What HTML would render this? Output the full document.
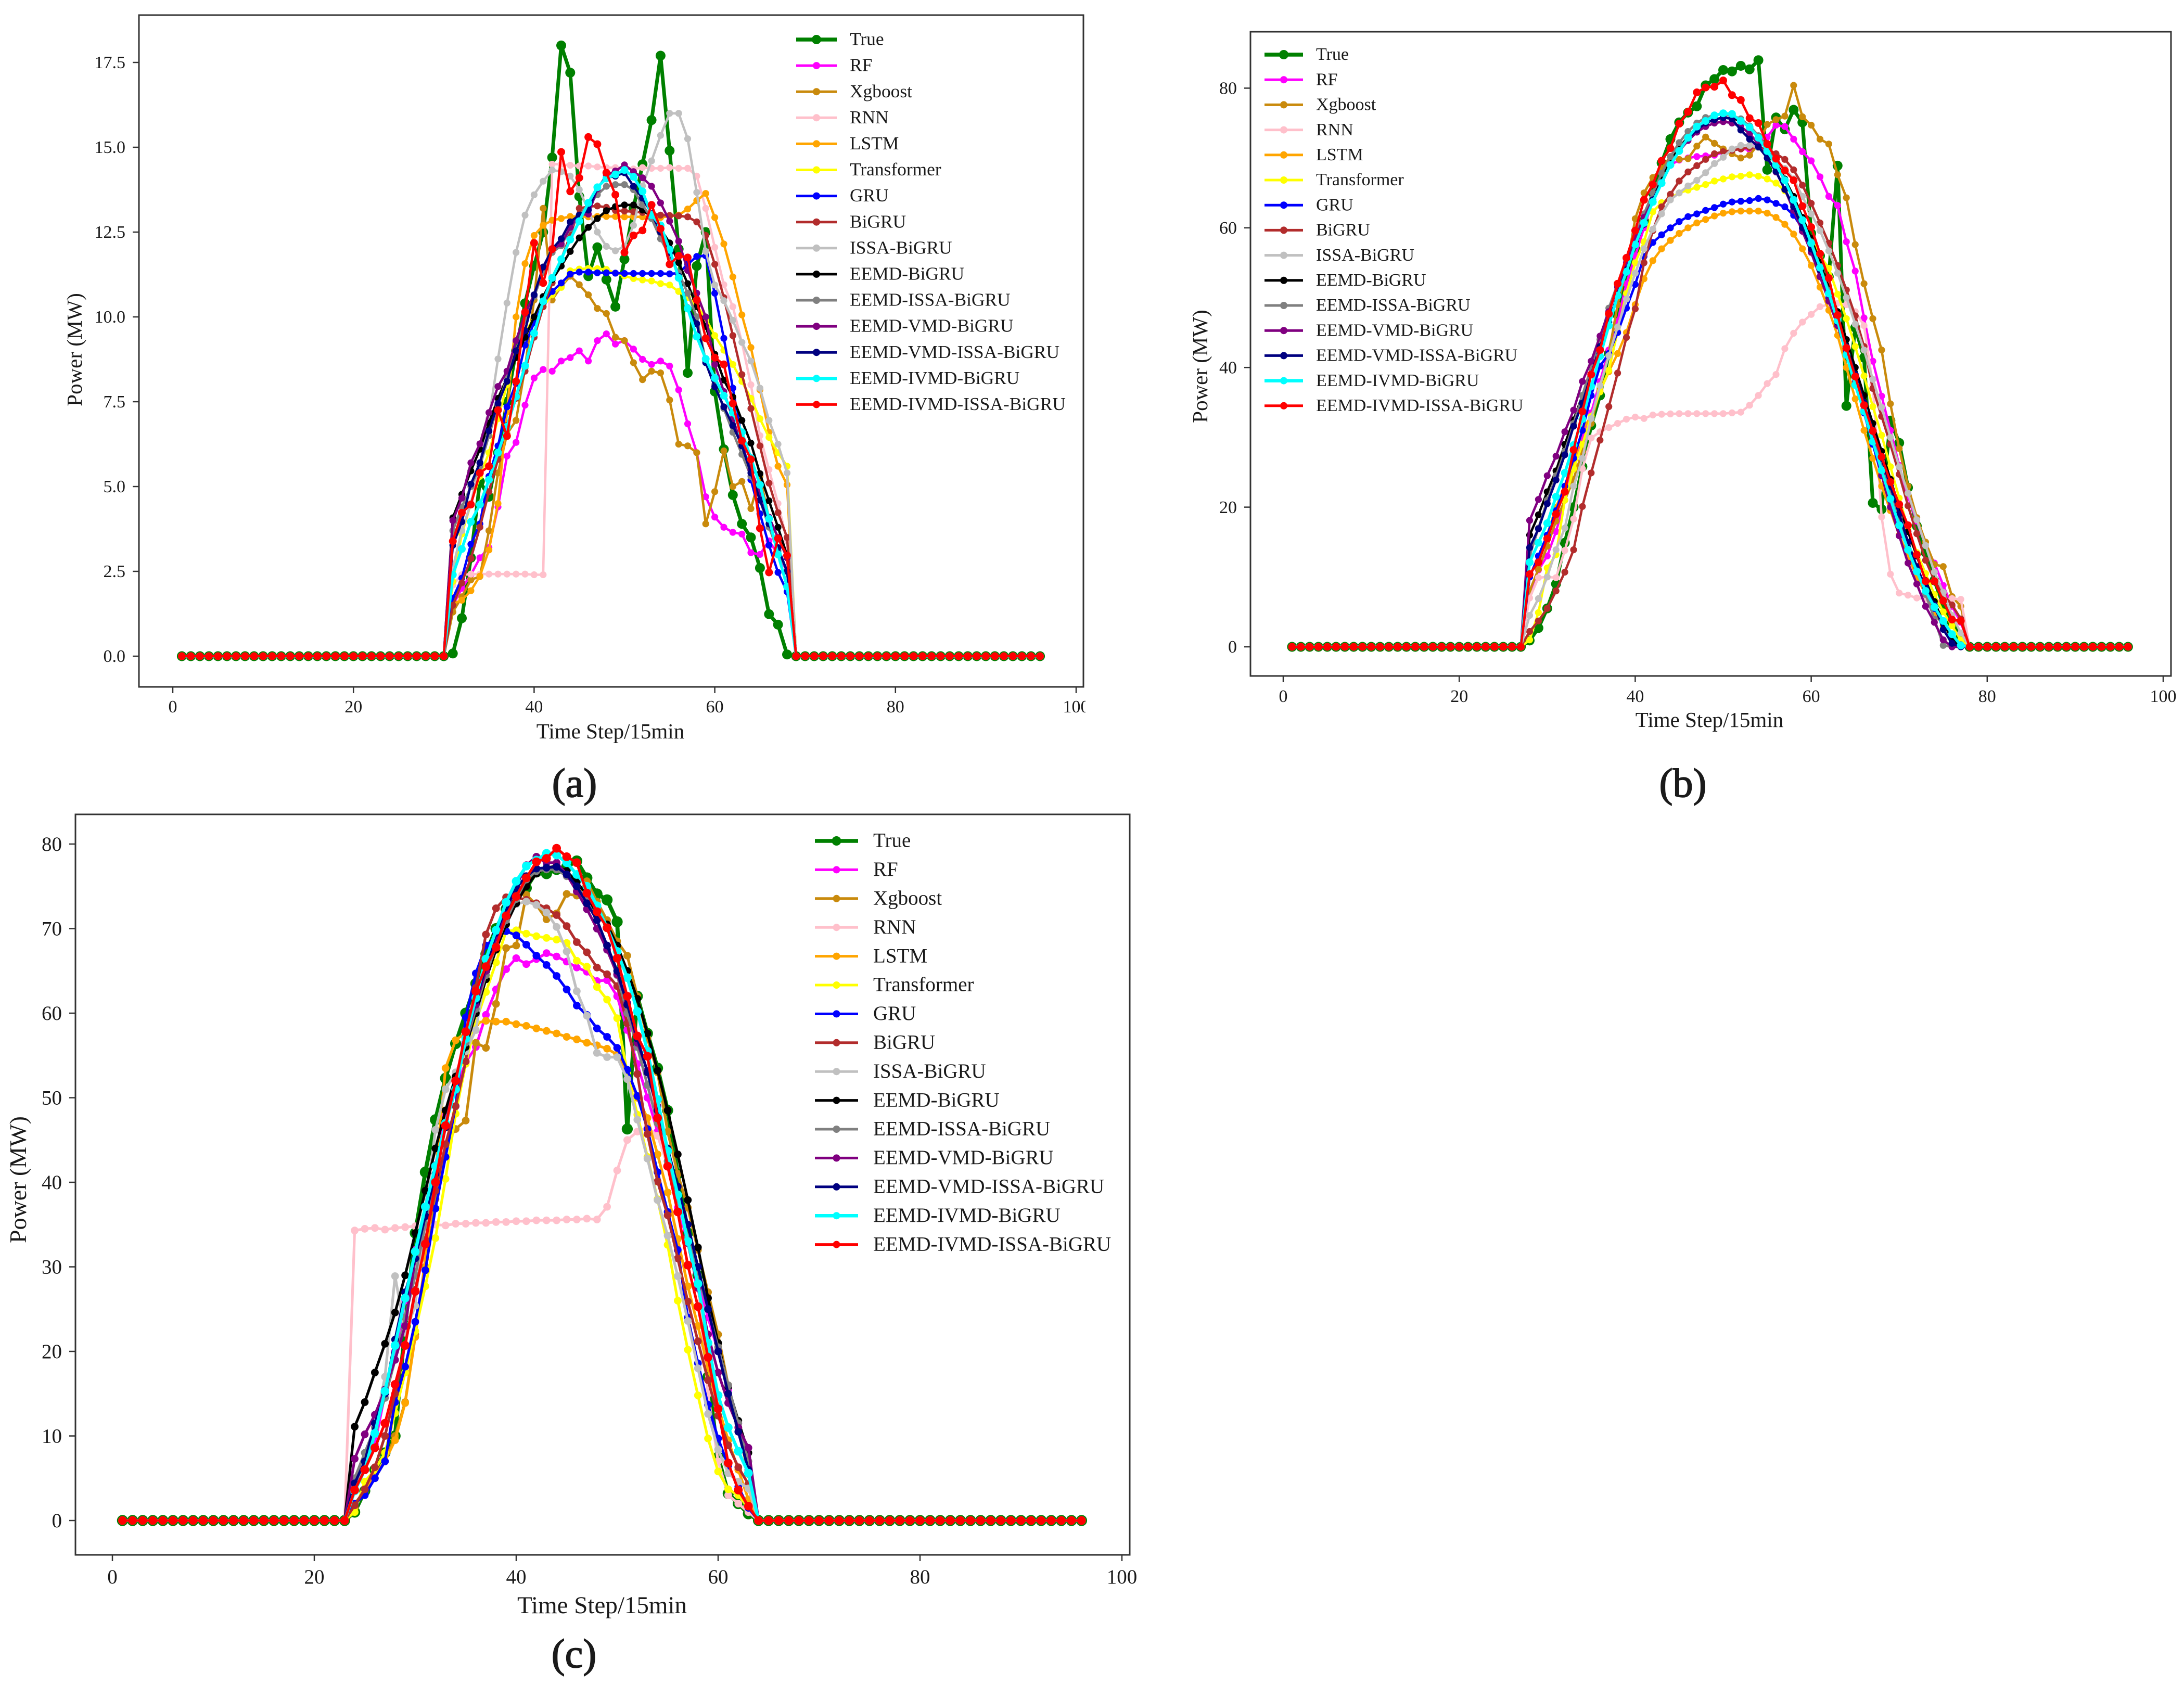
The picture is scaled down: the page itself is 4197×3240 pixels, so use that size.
<!DOCTYPE html>
<html lang="en">
<head>
<meta charset="utf-8">
<title>Power forecasting comparison</title>
<style>
html,body{margin:0;padding:0;background:#fff;}
svg{display:block;font-family:"Liberation Serif",serif;fill:#1a1a1a;}
</style>
</head>
<body>
<svg id="figure" xmlns="http://www.w3.org/2000/svg" width="4197" height="3240" viewBox="0 0 4197 3240">
  <rect x="0" y="0" width="4197" height="3240" fill="#ffffff"/>
  <defs><clipPath id="clip-a"><rect x="200" y="1300" width="1886" height="100"/></clipPath></defs>

  <g id="panel-a">
    <rect x="267" y="29" width="1815" height="1291" fill="none" stroke="#333" stroke-width="3"/>
    <text x="1173" y="1419" font-size="41" text-anchor="middle">Time Step/15min</text>
    <text transform="translate(157 672) rotate(-90)" font-size="41" text-anchor="middle">Power (MW)</text>
    <text x="1104" y="1531" font-size="78" text-anchor="middle" stroke="#1a1a1a" stroke-width="1.6">(a)</text>
  </g>

  <g id="panel-b">
    <rect x="2403" y="61" width="1769" height="1238" fill="none" stroke="#333" stroke-width="3"/>
    <text x="3285" y="1397" font-size="41" text-anchor="middle">Time Step/15min</text>
    <text transform="translate(2320 704) rotate(-90)" font-size="41" text-anchor="middle">Power (MW)</text>
    <text x="3234" y="1531" font-size="78" text-anchor="middle" stroke="#1a1a1a" stroke-width="1.6">(b)</text>
  </g>

  <g id="panel-c">
    <rect x="145" y="1565" width="2026" height="1423" fill="none" stroke="#333" stroke-width="3"/>
    <text x="1157" y="3100" font-size="47" text-anchor="middle">Time Step/15min</text>
    <text transform="translate(50 2267) rotate(-90)" font-size="46" text-anchor="middle">Power (MW)</text>
    <text x="1103" y="3204" font-size="78" text-anchor="middle" stroke="#1a1a1a" stroke-width="1.6">(c)</text>
  </g>
</svg>

<script>
const seriesNames = ["True","RF","Xgboost","RNN","LSTM","Transformer","GRU","BiGRU","ISSA-BiGRU","EEMD-BiGRU","EEMD-ISSA-BiGRU","EEMD-VMD-BiGRU","EEMD-VMD-ISSA-BiGRU","EEMD-IVMD-BiGRU","EEMD-IVMD-ISSA-BiGRU"];
const stepCount = 96;
const xTickValues = [0,20,40,60,80,100];
const aYTickLabels = ["0.0","2.5","5.0","7.5","10.0","12.5","15.0","17.5"];
const bYTickLabels = ["0","20","40","60","80"];
const cYTickLabels = ["0","10","20","30","40","50","60","70","80"];

/* Panel (a): readings for steps 31..68; every other step reads 0 */
const aFirstStep = 31;
const aTrue = [0.08,1.12,2.9,5.15,4.7,6,7.5,9,10.4,11.5,12.5,14.7,18,17.2,13.55,11.2,12.05,11.1,10.3,11.7,13.2,14.5,15.8,17.7,14.9,12,8.35,11.5,12.5,7.8,6.1,4.75,3.9,3.5,2.6,1.24,0.93,0.05];
const aRF = [1.5,2,2.4,2.9,3.2,4.4,5.9,6.3,7.4,8.2,8.45,8.4,8.7,8.8,9,8.7,9.3,9.5,9.2,9.3,9.05,8.75,8.6,8.7,8.55,7.85,6.85,6,4.7,4.1,3.8,3.65,3.6,3.05,3,3.4,3,2.5];
const aXgboost = [1.3,1.75,2.25,2.35,3.7,5.4,6.55,6.95,8.5,10.5,13.2,10.5,10.9,11.2,10.95,10.65,10.25,10.1,9.4,9.3,8.65,8.15,8.4,8.35,7.55,6.25,6.2,6,3.9,4.85,6.05,5,5.15,4.35,5.3,4.05,3.5,2.9];
const aRNN = [2.1,2.4,2.42,2.42,2.42,2.42,2.42,2.42,2.42,2.4,2.4,14.5,14.5,14.47,14.45,14.45,14.42,14.4,14.4,14.38,14.36,14.4,14.38,14.38,14.4,14.38,14.38,14.15,13.2,12.05,10.95,10.3,9.25,8,6.5,5.5,4.5,3.4];
const aLSTM = [1.55,1.65,1.93,2.36,3.13,4.5,7.2,10,11.57,12.4,12.7,12.85,12.9,12.96,12.96,12.95,12.96,12.96,12.96,12.95,12.95,12.95,12.95,12.93,12.97,13,13.18,13.43,13.64,12.93,12.15,11.18,10.06,9.1,7.85,6.6,5.6,5.05];
const aTransformer = [2.2,3.6,4.5,5.3,6,7,8,9,9.5,10,10.3,10.65,10.87,11.36,11.41,11.43,11.42,11.4,11.29,11.21,11.13,11.09,11.06,10.98,10.94,10.75,10.57,10.34,9.95,9.45,9.02,8.6,8.1,7.6,7,6.45,6,5.6];
const aGRU = [1.7,2.3,3.3,3.9,5.3,6.2,7.35,8.04,9.17,9.83,10.4,10.75,11,11.26,11.32,11.32,11.3,11.3,11.29,11.28,11.28,11.28,11.28,11.28,11.27,11.29,11.55,11.78,11.8,10.7,9.37,7.9,6.4,5.2,4.2,3.27,2.47,1.9];
const aBiGRU = [1.5,2.16,2.88,3.8,4.85,5.8,6.8,7.6,8.4,9.4,10.3,11,11.7,12.4,13.2,13.25,13.27,13.23,13.14,13.12,13.1,13.08,13.05,13,12.99,12.98,12.95,12.8,12.4,11.55,10.57,9.45,8.3,7.3,6.2,5.1,4.23,3.5];
const aISSA = [2.6,3.7,4.5,5.7,7,8.76,10.41,11.9,13,13.6,14,14.33,14.28,14.15,13.75,13.15,12.5,12.08,11.95,12.08,12.7,13.86,14.6,15.35,16,16,15.25,13.67,11.93,10.94,10.48,9.9,9.25,8.7,7.9,6.95,6.25,5.4];
const aEEMD = [4.08,4.77,5.46,6.1,6.87,7.6,8.2,8.8,9.4,10,10.6,11.1,11.5,11.93,12.33,12.64,12.9,13.13,13.25,13.3,13.3,13.15,12.95,12.6,12.18,11.6,10.98,10.3,9.72,8.9,8.14,7.64,6.95,6.28,5.38,4.58,3.8,2.97];
const aEEMDISSA = [3.7,4.4,5,5.6,6.5,7.4,8.2,9,9.9,10.6,11.3,11.9,12.1,12.6,13,13.3,13.6,13.85,13.9,13.9,13.75,13.3,12.9,12.3,11.8,11.3,10.7,10,8.7,8,7.3,6.6,5.95,5.3,4.6,3.8,3.1,2.5];
const aVMD = [4,4.66,5.7,6.26,7.18,7.95,8.4,9.3,10.1,10.65,11.47,11.98,12.15,12.64,13,13.03,13.77,14.17,14.3,14.48,14.28,14.1,13.85,13.36,12.82,12.23,11.37,10.7,10,8.6,7.8,7,6.2,5.5,4.8,4.1,3.5,2.9];
const aVMDISSA = [3.27,3.96,5.07,5.7,6.64,7.45,8.1,9,9.6,10.65,11.47,12,12.3,12.8,13,13.15,13.8,14.1,14.15,14.25,13.85,13.5,13.05,12.5,11.9,11.2,10.27,9.8,8.65,7.94,7.35,6.8,6.2,5.4,4.6,3.9,3.2,2.5];
const aIVMD = [2.4,3.16,3.96,4.47,5.2,6,6.76,7.65,8.56,9.52,10.46,11.15,11.7,12.28,12.82,13.36,13.82,14.08,14.2,14.33,14.13,13.7,13,12.7,11.98,11.15,10.25,9.42,8.76,8.2,7.68,7.18,6.6,5.84,5.05,4.05,3,2.05];
const aIVMDISSA = [3.39,4.23,4.47,5.4,5.6,7.25,6.49,8.1,10.14,12.18,11,12,14.86,13.7,14.1,15.3,15.09,14.25,13.6,11.9,12.4,12.55,13.3,12.6,11.55,11.8,11.75,10.5,9.37,8.8,8.6,7.45,6.35,5.8,3.77,2.47,3.47,2.97];

/* Panel (b): readings for steps 28..77; every other step reads 0 */
const bFirstStep = 28;
const bTrue = [0.9,2.7,5.5,9,14.9,20,25.8,31.7,36,42,47.5,52.5,57,61,65,69.3,72.7,75.1,76.5,77.4,80.4,81.3,82.6,82.4,83.2,82.7,84,68.3,75.8,74.1,76.9,75.1,59.2,56,53,68.9,34.5,45.7,41.4,20.6,19.7,32.4,29.2,22.8,17.3,13.5,9.5,6,3.5,1.5];
const bRF = [7.8,11,13,16.5,21,26.3,30,33.5,38,42.5,46.6,52,56,60,64,67,69,69.7,70,70.2,70.3,70.4,70.8,71.1,71.3,71.2,72.4,73,74.7,74.5,72.7,70.9,69.6,67.3,64.5,63.2,58,53.8,47.1,40.9,35.9,31,26,21.5,18,14.5,12,8.8,5.8,3.5];
const bXgboost = [8,11.1,14.4,18,21,24,28,32,37,42,49,54,61.3,65,67.2,68.5,70.2,69.8,69.9,71.7,73,72.1,71.3,70.6,70,70.4,72,74.8,75.5,76,80.4,75.9,74.7,72.7,72,67.6,64.3,57.6,52,47,42.5,34.8,28.4,23,18.5,15,11.8,11.5,7.2,5.8];
const bRNN = [7,9.9,10,9.9,13.8,18.3,25.5,29.9,30.8,31.4,32,32.6,32.9,32.7,33.2,33.3,33.35,33.4,33.4,33.4,33.4,33.4,33.4,33.5,33.6,34.6,36,37.7,39,42.7,44.9,46.5,47.6,48.7,49,49.2,49,48,46,37.5,18.6,10.4,7.7,7.4,7,6.8,6.7,6.6,6.9,6.8];
const bLSTM = [10,13,16,20,23,26,31.1,33,36.6,39.4,42,45,49,52.7,55.3,57,58.2,59.2,60,60.7,61.2,61.7,62.1,62.3,62.4,62.4,62.4,62.1,61.5,60.5,59.1,57,54.6,51.5,48.2,44.6,40,35.5,31,27,23,19.5,16,13,10,7.5,5,3,1.5,0.5];
const bTransformer = [1,4.9,11.3,13.2,21,25.5,29,33,36.5,39.6,45.2,50.6,55,58,62.3,63.6,64.3,65,65.4,65.8,66.2,66.7,67,67.3,67.4,67.6,67.4,67,66.4,65.3,63,61,58.5,56,54.2,50.5,47,43,38.8,34.4,30.3,25.8,21.3,17,13.5,10.5,7.5,5,3,1];
const bGRU = [10,13,16,19.5,23,27,31,36,40.2,42,45,48.5,51.9,55.9,57.9,59,60,60.9,61.6,62,62.5,62.9,63.4,63.7,63.8,63.9,64.2,64,63.5,63,61.8,59.9,56.5,53,50,46,42.5,38,33.5,29,24.5,21,17,14,11,8,5.5,3.5,1.5,0.3];
const bBiGRU = [2.2,3.7,5.5,8,10.7,13.9,20.1,24.9,29.6,34.4,39.2,44.3,48.4,55,59.6,63,64.8,66.7,68,68.9,69.8,70.6,70.9,71.1,71.3,71.5,71.5,71.3,70.6,69.8,68.3,66.1,63.5,60.7,57.8,54.6,51.1,47.4,43,37,33,29,24.7,20.2,16.2,12.4,9.5,7.5,6,4];
const bISSA = [4.5,6.9,10,13.9,17,23,27,32.7,37.4,41.7,45.8,49.8,53.5,57,59.8,62,64,65,66,66.8,67.9,69.2,70.1,71.3,71.8,71.8,71.5,70.8,69.7,68.5,67,64.5,62,59.6,56.7,53.5,50,46.2,42.5,38.3,34.3,30,25.8,22,18.2,14.5,10.7,7.8,4.5,2];
const bEEMD = [16,18.9,22.2,25.2,29,32.5,36,40,44,48,51.5,54.5,58,61,64,67,69.5,71.5,73,74.2,75,75.5,75.8,75.7,75.3,74.5,73,71.5,69.5,67,64.5,61.5,58.5,55,51.5,48,44,40,36,32,28,24,20,16.5,13,9.5,6.5,3.5,1,0];
const bEEMDISSA = [13,17,21,24.5,28,32,36,40,44,48.5,52,55.5,59,62,65,67.8,70.2,72.2,73.8,75,75.8,76.1,76.3,76.1,75.6,74.6,73.2,71.5,69.3,66.8,64,61,58,54.5,51,47,43,39,35,31,26.5,22.5,18.5,14.5,11,7.5,4,0.2,0,0];
const bVMD = [18.1,21.1,24.5,27.3,30.8,33.9,38,40.9,44.5,48,51.5,55,58.5,61.5,64,66.5,69,71,72.5,73.7,74.5,75,75.2,75,74.5,73.5,72,70,68,65.5,62.5,59.5,56.5,53,49.5,46,42,38,34,30,24.6,20,15.9,12,9,5.8,3.5,1,0,0];
const bVMDISSA = [14.2,16.9,20.5,23.9,27.5,31.6,34.9,39,43,46.5,50.5,54,57.5,60.5,64,66.5,69,71,72.8,74,75,75.5,75.8,75.6,74,72.7,71.6,70,68.1,65.5,63,60,57,54,50.5,46.5,43,39,35,31,27,23,19,15,11.5,8.5,6,2.5,0.5,0];
const bIVMD = [12.1,14.9,17.7,21.5,24.9,28.9,32.6,37.3,41.6,46,50.3,53.7,57.6,60.7,63.7,66.4,69,71,72.9,74.5,75.3,76.1,76.4,76.3,75.3,74.4,72.9,71,69,66.8,64,61.1,57.8,54.3,50.6,46.7,41.8,37.5,33.7,29.4,25.3,21.2,17.4,13.9,10.8,8,5.7,3.7,1.8,0.2];
const bIVMDISSA = [10.4,12.1,15.5,19,22.2,28.2,33.7,39,42.5,47.7,52,55.7,59.6,64,66.2,69.6,71.4,74.9,76.6,79.4,80.1,80.2,81.1,79,78.3,75.7,75,72,69.9,68.2,66.8,63.1,60.1,56.3,52.8,47.5,42.8,38.7,34.6,30.9,27.2,23.6,20.4,17.4,13.2,9.4,9.4,6.6,3.9,3.7];

/* Panel (c): readings for steps 24..63; every other step reads 0 */
const cFirstStep = 24;
const cTrue = [1,3.5,6,8,10,23,34,41.2,47.4,52.3,56.4,60,63.5,67,70,72.3,74,74.8,76.7,76.5,77,77.3,78,76,74.1,73.4,70.8,46.3,62,57.6,53.5,48.5,41,34,29,17,7.5,3.2,2,0.8];
const cRF = [4,6,9,15,20,26,32,37,42,48,51,54.2,56,59.8,62.8,65.2,66.5,65.8,66.4,67.1,66.7,66.1,65.4,64.9,63.8,63.9,62,58,54,50,46,42,37,33,28.5,24,20,15.5,11.5,6];
const cXgboost = [2,3.5,5,7,10,14,22,30,38,44.5,46.3,47.3,56.5,55.9,61.1,67.7,68,74,72.8,71.1,71.8,74.1,73.9,75.6,73.2,71,68.5,66.8,62,57,53,46,41,37,32,27,22,16,11,5.5];
const cRNN = [34.3,34.5,34.6,34.4,34.6,34.7,34.8,34.9,35,34.9,35.1,35.1,35.2,35.2,35.3,35.3,35.4,35.4,35.5,35.5,35.5,35.6,35.6,35.7,35.6,37.1,41.4,45,46,46.5,45.5,42,38,33,28,15,7,3,2,1];
const cLSTM = [1.5,3.5,5.5,7,9.5,13.9,21.7,31,41,53.5,56.8,57.7,58.8,59.1,59,59,58.7,58.5,58.2,57.9,57.6,57.2,56.9,56.5,56.2,55.8,55.1,53,50,47.6,43.3,38.8,33.3,27.7,23,18,13.5,9.5,6,2.5];
const cTransformer = [1,4.6,6,8,12.7,17.5,22.4,27.7,33.4,40.4,48.1,54,59,62.5,66,69.7,69.8,69.4,69.1,68.9,68.7,68.3,66.2,65.5,63.1,61.6,59.4,53,48,43,38,32.6,26,20.2,14.8,9.7,5.8,3.7,3,1.5];
const cGRU = [2,3,5,7,14,18.2,23.5,29.6,36.9,43,49,59.5,64.7,68,69,69.7,69.2,68.1,66.8,65.7,64.4,62.8,60.9,59.8,58.2,57.2,55.9,53.3,50.2,46.3,41.2,36.5,32,24,18.6,13.7,9.7,6.5,4,1.5];
const cBiGRU = [1.8,3.7,6.3,10,15,20.8,27.3,33.2,39,44.5,49,54.3,63,69.3,72.4,73.7,73.7,73.4,73,72.4,71.6,70.3,68.4,67.2,65.4,64.6,63.2,58.8,52.8,45.7,40.1,36.1,31,25.9,21.2,16.6,12.4,8.9,6.3,4.3];
const cISSA = [4,7,11,17,28.9,22.2,25.4,37,46.2,51,53,55.5,58,64.9,68,72,72.9,73.2,72.8,71.9,70.2,67.3,62.6,59.7,55.3,54.8,54.8,52.2,47.4,42.8,37.9,33.7,28.9,23.6,18,12.6,8.4,5.6,4.6,3.8];
const cEEMD = [11.1,14,17.5,20.9,24.6,29,34,39,44,48.5,52.5,56,60,64,67.5,70.5,73,75,76.5,77.2,77.4,76.8,75.5,74,71.5,70.5,68,65,61.7,57.6,53.2,48.5,43.3,37.9,32.3,26.3,21,15.8,11.8,8];
const cEEMDISSA = [5,8,11,14.5,19,24,29,35,41,47,52,56.5,60.5,64.5,68,71,73.5,75.8,76.8,77,77,76.2,75,73.3,71,68,64.5,60,56,51.5,47,42.5,38,33.5,29,25,20.5,16,11.5,7];
const cVMD = [7.3,10.2,12.5,15.5,19,23,31,37,42,47,52,57,61,65,69,72,75,77.5,78.5,77.8,77.8,76.4,74.4,72.3,70,67.5,64.6,61.2,56.5,53.2,49,44,38.5,32.8,27.5,22,17.5,13.9,11,8.6];
const cVMDISSA = [4.4,7,11.5,15,21.4,27,31,36,41,46.5,52,57,61.5,65.5,69.5,72.5,74.8,76.2,77.1,77.2,77.3,76.4,75,73,71,68,65,61,57,53,48.5,44,39.5,35,30,25,20,15,10.5,6];
const cIVMD = [3.5,6,10.3,15.3,20.7,26.3,31.8,37.1,41.9,47,51,57,61.8,66.4,69.8,73.1,75.6,77.4,78.1,78.9,78.7,77.8,76.4,75,72.7,70.1,67.3,64.2,60.2,55.5,49.8,43.7,38.5,33,28,21,14.8,11,8.2,5.6];
const cIVMDISSA = [3.6,6,8.6,11.5,16.1,20.7,27.1,32.7,40,46.7,52,57.8,62.6,65.5,67.8,71.5,73.8,76,77.9,78.3,79.5,78.5,77.8,74.2,72,70.1,66.5,62,57.3,54.9,47.6,41.9,36.5,30.2,25.3,19.3,13.2,6.8,3.6,1.7];

const SVG_NS = "http://www.w3.org/2000/svg";
const COLORS = ["#008000","#ff00ff","#c98a0c","#ffc0cb","#ffa500","#ffff00","#0000ff","#b22c2c","#c0c0c0","#000000","#808080","#800080","#000080","#00ffff","#ff0000"];

function slug(text) {
  return text.toLowerCase().replace(/[^a-z0-9]+/g, "-");
}

function make(tag, parent) {
  const node = document.createElementNS(SVG_NS, tag);
  parent.appendChild(node);
  return node;
}

function expandSeries(values, firstStep) {
  const full = [];
  for (let step = 1; step <= stepCount; step++) {
    const v = values[step - firstStep];
    full.push(v === undefined ? 0 : v);
  }
  return full;
}

function drawAxes(root, cfg, xScale, yScale) {
  const axes = make("g", root);
  
  
  xTickValues.forEach(function (tick) {
    const mark = make("line", axes);
    
    
    mark.setAttribute("x1", xScale(tick));
    mark.setAttribute("x2", xScale(tick));
    mark.setAttribute("y1", cfg.bottom);
    mark.setAttribute("y2", cfg.bottom + 12);
    mark.setAttribute("stroke", "#333");
    mark.setAttribute("stroke-width", "2.5");
    const label = make("text", axes);
    
    
    label.setAttribute("x", xScale(tick));
    label.setAttribute("y", cfg.xLabelCenter + cfg.tickFont * 0.33);
    label.setAttribute("font-size", cfg.tickFont);
    label.setAttribute("text-anchor", "middle");
    if (cfg.clip) label.setAttribute("clip-path", cfg.clip);
    label.textContent = tick;
  });
  cfg.yLabels.forEach(function (text) {
    const tick = parseFloat(text);
    const mark = make("line", axes);
    
    
    mark.setAttribute("x1", cfg.left - 12);
    mark.setAttribute("x2", cfg.left);
    mark.setAttribute("y1", yScale(tick));
    mark.setAttribute("y2", yScale(tick));
    mark.setAttribute("stroke", "#333");
    mark.setAttribute("stroke-width", "2.5");
    const label = make("text", axes);
    
    
    label.setAttribute("x", cfg.left - 26);
    label.setAttribute("y", yScale(tick) + cfg.tickFont * 0.33);
    label.setAttribute("font-size", cfg.tickFont);
    label.setAttribute("text-anchor", "end");
    label.textContent = text;
  });
}

function drawSeries(root, cfg, xScale, yScale) {
  cfg.series.forEach(function (values, index) {
    const full = expandSeries(values, cfg.firstStep);
    const group = make("g", root);
    
    
    const isTrue = index === 0;
    const points = full.map(function (v, i) {
      return xScale(i + 1).toFixed(1) + "," + yScale(v).toFixed(1);
    }).join(" ");
    const line = make("polyline", group);
    
    
    line.setAttribute("points", points);
    line.setAttribute("fill", "none");
    line.setAttribute("stroke", COLORS[index]);
    line.setAttribute("stroke-width", cfg.markScale * (isTrue ? 7 : (index === 13 ? 5.5 : 4.6)));
    line.setAttribute("stroke-linejoin", "round");
    full.forEach(function (v, i) {
      const dot = make("circle", group);
      
      
      dot.setAttribute("cx", xScale(i + 1).toFixed(1));
      dot.setAttribute("cy", yScale(v).toFixed(1));
      dot.setAttribute("r", cfg.markScale * (isTrue ? 9.5 : (index === 14 || index === 13 ? 7.5 : 6.6)));
      dot.setAttribute("fill", COLORS[index]);
    });
  });
}

function drawLegend(root, cfg) {
  const legend = make("g", root);
  
  
  seriesNames.forEach(function (name, index) {
    const rowY = cfg.legendTop + index * cfg.legendStep;
    const entry = make("g", legend);
    
    
    const swatch = make("line", entry);
    
    
    swatch.setAttribute("x1", cfg.legendLine[0]);
    swatch.setAttribute("x2", cfg.legendLine[1]);
    swatch.setAttribute("y1", rowY);
    swatch.setAttribute("y2", rowY);
    swatch.setAttribute("stroke", COLORS[index]);
    swatch.setAttribute("stroke-width", index === 0 ? 7.5 : (index === 13 ? 6.5 : 5));
    const dot = make("circle", entry);
    
    
    dot.setAttribute("cx", (cfg.legendLine[0] + cfg.legendLine[1]) / 2);
    dot.setAttribute("cy", rowY);
    dot.setAttribute("r", index === 0 ? 9 : 7);
    dot.setAttribute("fill", COLORS[index]);
    const label = make("text", entry);
    
    
    label.setAttribute("x", cfg.legendText);
    label.setAttribute("y", rowY + cfg.legendFont * 0.3);
    label.setAttribute("font-size", cfg.legendFont);
    label.textContent = name;
  });
}

function drawPanel(cfg) {
  const root = document.getElementById("panel-" + cfg.id);
  const xScale = function (t) { return cfg.x0 + cfg.xUnit * t; };
  const yScale = function (v) { return cfg.y0 - cfg.yUnit * v; };
  drawAxes(root, cfg, xScale, yScale);
  drawSeries(root, cfg, xScale, yScale);
  drawLegend(root, cfg);
}

drawPanel({
  id: "a", firstStep: aFirstStep, markScale: 1,
  series: [aTrue,aRF,aXgboost,aRNN,aLSTM,aTransformer,aGRU,aBiGRU,aISSA,aEEMD,aEEMDISSA,aVMD,aVMDISSA,aIVMD,aIVMDISSA],
  yLabels: aYTickLabels,
  left: 267, bottom: 1320, x0: 332, xUnit: 17.36, y0: 1261, yUnit: 65.2,
  xLabelCenter: 1358, tickFont: 34, clip: "url(#clip-a)",
  legendTop: 76, legendStep: 50.1, legendLine: [1530, 1608], legendText: 1633, legendFont: 35.4
});
drawPanel({
  id: "b", firstStep: bFirstStep, markScale: 1,
  series: [bTrue,bRF,bXgboost,bRNN,bLSTM,bTransformer,bGRU,bBiGRU,bISSA,bEEMD,bEEMDISSA,bVMD,bVMDISSA,bIVMD,bIVMDISSA],
  yLabels: bYTickLabels,
  left: 2403, bottom: 1299, x0: 2466, xUnit: 16.91, y0: 1243, yUnit: 13.42,
  xLabelCenter: 1338, tickFont: 34,
  legendTop: 105, legendStep: 48.2, legendLine: [2430, 2504], legendText: 2529, legendFont: 34
});
drawPanel({
  id: "c", firstStep: cFirstStep, markScale: 1.12,
  series: [cTrue,cRF,cXgboost,cRNN,cLSTM,cTransformer,cGRU,cBiGRU,cISSA,cEEMD,cEEMDISSA,cVMD,cVMDISSA,cIVMD,cIVMDISSA],
  yLabels: cYTickLabels,
  left: 145, bottom: 2988, x0: 216, xUnit: 19.4, y0: 2922, yUnit: 16.25,
  xLabelCenter: 3030, tickFont: 39,
  legendTop: 1616, legendStep: 55.4, legendLine: [1566, 1649], legendText: 1678, legendFont: 39
});
</script>
</body>
</html>
